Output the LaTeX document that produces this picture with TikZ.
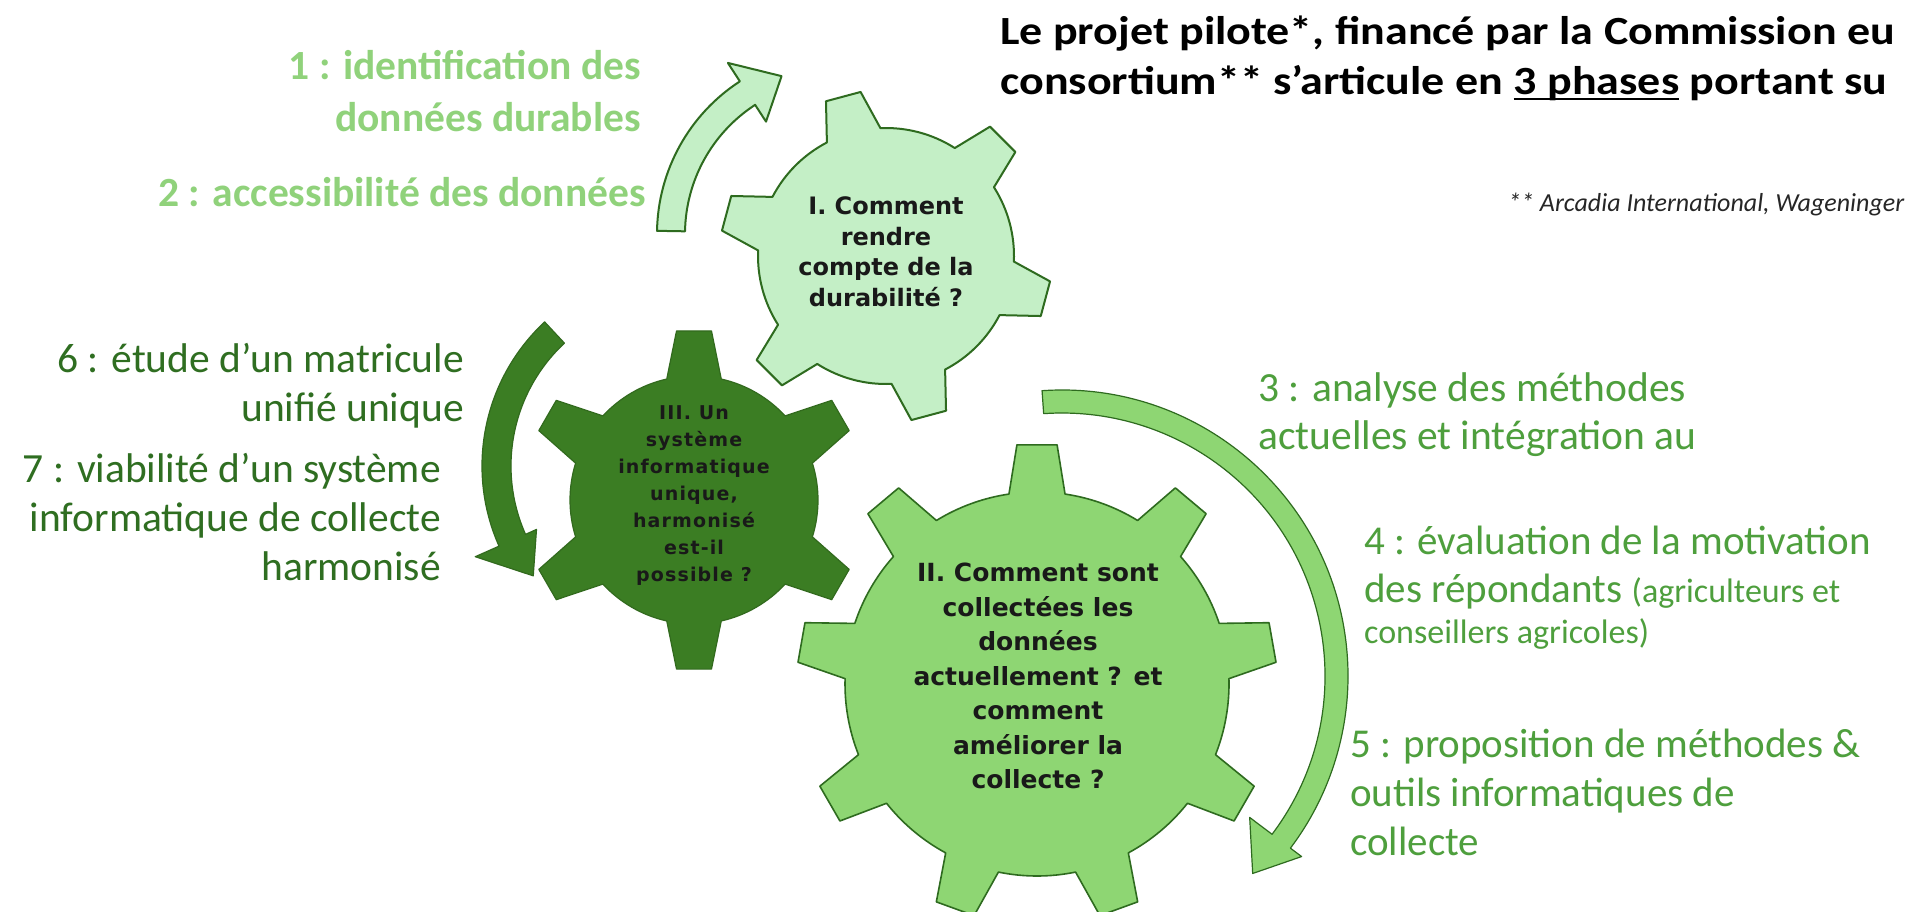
\documentclass[tikz,border=0pt]{standalone}
\usepackage{fontspec}
\setmainfont{Carlito}
\newfontfamily\gearfont{DejaVu Sans}
\newfontfamily\gearthreefont[LetterSpace=6]{DejaVu Sans}
\newfontfamily\titlefont[FakeStretch=1.15]{Carlito}
\usepackage{xcolor}
\usepackage{tikz}

\definecolor{gearlight}{HTML}{C4EFC6}
\definecolor{gearmid}{HTML}{8ED673}
\definecolor{geardark}{HTML}{3B7D23}
\definecolor{gearline}{HTML}{2E6B1F}
\definecolor{textlight}{HTML}{90D27B}
\definecolor{textmid}{HTML}{4E9F3D}
\definecolor{textdark}{HTML}{2F6E21}

% options, centre, teeth, inner r, outer r, first tooth, base half-angle, tip half-angle
\newcommand\gearshape[8]{%
  \draw[shift={#2},#1] ({#6-#7}:#4)
    \foreach \k in {1,...,#3}{
      -- ({#6+(\k-1)*360/#3-#8}:#5) -- ({#6+(\k-1)*360/#3+#8}:#5)
      -- ({#6+(\k-1)*360/#3+#7}:#4)
      arc[start angle={#6+(\k-1)*360/#3+#7},end angle={#6+\k*360/#3-#7},radius=#4]
    } -- cycle;}

% options, centre, inner r, outer r, start, end, tip, inner barb, outer barb
\newcommand\arcarrow[9]{%
  \draw[shift={#2},#1] (#5:#4) arc[start angle=#5,end angle=#6,radius=#4]
    -- (#6:{#4+#9}) -- (#7:{(#3+#4)/2}) -- (#6:{#3-#8}) -- (#6:#3)
    arc[start angle=#6,end angle=#5,radius=#3] -- cycle;}

\newcommand\phaseline[1]{\setbox0=\hbox{#1}\rlap{\rule[-6pt]{\wd0}{2.5pt}}\box0\relax}

\begin{document}
\begin{tikzpicture}[x=1pt,y=-1pt,
  lightpart/.style={fill=gearlight,draw=gearline,line width=2pt,line join=round},
  midpart/.style={fill=gearmid,draw=gearline,line width=1.6pt,line join=round},
  darkpart/.style={fill=geardark,draw=geardark!85!black,line width=1.2pt,line join=round},
  gear text/.style={align=center,text=black!90,font=\gearfont\bfseries\fontsize{25}{34.5}\selectfont},
  steptext/.style={inner sep=0pt,font=\fontsize{41}{50}\selectfont}]
\useasboundingbox[fill=white] (0,0) rectangle (1908,911);
\clip (0,0) rectangle (1908,911);

\arcarrow{lightpart}{(839,234)}{154}{182}{181}{237}{250}{20}{22}
\arcarrow{darkpart}{(679,466)}{168}{197}{227}{156}{143}{12}{26}
\arcarrow{midpart,line width=1.2pt}{(1062,676)}{263}{286}{266}{397}{406}{28}{14}

\gearshape{lightpart}{(886,256)}{6}{128}{166}{15}{12.5}{6.2}
\gearshape{darkpart}{(694,500)}{6}{124}{170}{30}{12.7}{5.9}
\gearshape{midpart}{(1037,684)}{9}{192}{240}{-90}{8.4}{4.8}

\node[gear text,font=\gearfont\bfseries\fontsize{24}{30.5}\selectfont] (one) at (886,252) {I. Comment\\rendre\\compte de la\\durabilité ?};
\node[gear text] (two) at (1038,676) {II. Comment sont\\collectées les\\données\\actuellement ? et\\comment\\améliorer la\\collecte ?};
\node[gear text,font=\gearthreefont\bfseries\fontsize{19}{27}\selectfont] (three) at (694,496)
  {III. Un\\système\\informatique\\unique,\\harmonisé\\est-il\\possible ?};

\node[steptext,text=textlight,anchor=east,align=right,font=\bfseries\fontsize{41.5}{52}\selectfont] (step one) at (641,91.5)
  {1 : identification des\\données durables};
\node[steptext,text=textlight,anchor=east,font=\bfseries\fontsize{41.5}{52}\selectfont] (step two) at (646,192) {2 : accessibilité des données};
\node[steptext,text=textdark,anchor=east,align=right,font=\fontsize{41.5}{49}\selectfont] (step six) at (464,386)
  {6 : étude d’un matricule\\unifié unique};
\node[steptext,text=textdark,anchor=east,align=right,font=\fontsize{41.5}{49}\selectfont] (step seven) at (441,517)
  {7 : viabilité d’un système\\informatique de collecte\\harmonisé};
\node[steptext,text=textmid,anchor=west,align=left,font=\fontsize{41.5}{48}\selectfont] (step three) at (1258,414.5)
  {3 : analyse des méthodes\\actuelles et intégration au};
\node[steptext,text=textmid,anchor=west,align=left,font=\fontsize{41}{47.5}\selectfont] (step four) at (1364,588)
  {4 : évaluation de la motivation\\des répondants {\fontsize{34}{38}\selectfont(agriculteurs et}\\[-6pt]{\fontsize{34}{38}\selectfont conseillers agricoles)}};
\node[steptext,text=textmid,anchor=west,align=left,font=\fontsize{41}{49}\selectfont] (step five) at (1350,792)
  {5 : proposition de méthodes \&\\outils informatiques de\\collecte};

\node[anchor=west,inner sep=0pt,align=left,font=\titlefont\bfseries\fontsize{40}{50}\selectfont] (title) at (1000,58)
  {Le projet pilote*, financé par la Commission eu\\consortium** s’articule en \phaseline{3 phases} portant su};
\node[anchor=west,inner sep=0pt,text=black!85,font=\itshape\fontsize{26}{30}\selectfont] (note) at (1508,204)
  {** Arcadia International, Wageninger};
\end{tikzpicture}
\end{document}
